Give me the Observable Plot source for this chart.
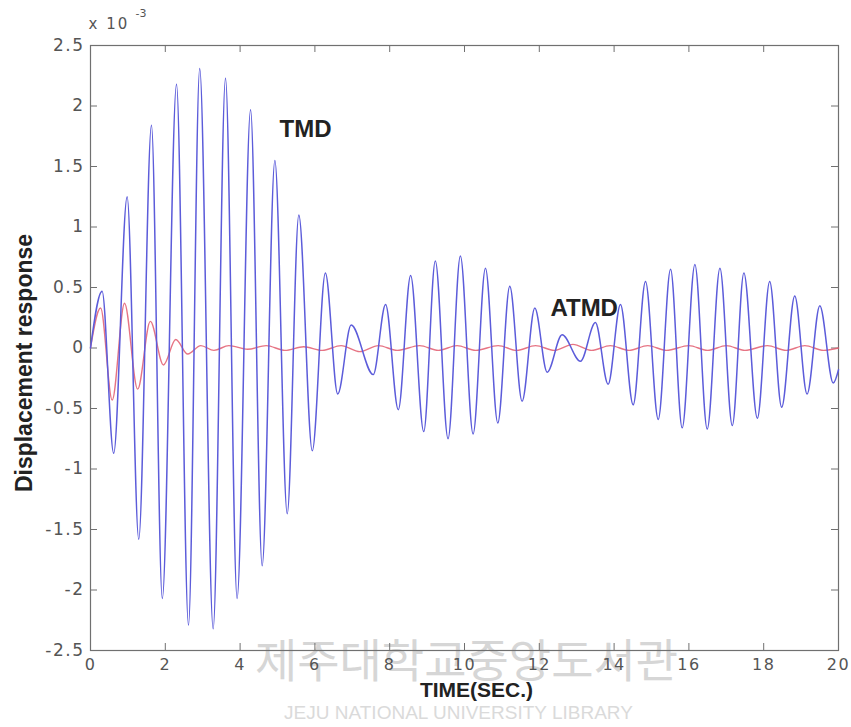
<!DOCTYPE html>
<html>
<head>
<meta charset="utf-8">
<script src="https://cdn.jsdelivr.net/npm/d3@7"></script>
<script src="https://cdn.jsdelivr.net/npm/@observablehq/plot@0.6"></script>
<style>
  html, body { margin: 0; padding: 0; background: #fff; }
  #chart { width: 851px; height: 727px; }
  g[aria-label="x-axis tick label"] text,
  g[aria-label="y-axis tick label"] text { letter-spacing: 1.5px; }
  .spaced text { letter-spacing: 2px; }
</style>
</head>
<body>
<div id="chart"></div>
<script>
// TMD response (x 10^-3), read at extrema
const tmdTime = [0, 0.31, 0.62, 0.98, 1.29, 1.63, 1.92, 2.30, 2.62, 2.92, 3.28, 3.61, 3.92, 4.28, 4.59, 4.93, 5.26, 5.57, 5.93, 6.28, 6.61, 6.97, 7.56, 7.89, 8.23, 8.56, 8.91, 9.22, 9.56, 9.89, 10.23, 10.56, 10.89, 11.21, 11.54, 11.88, 12.21, 12.61, 13.10, 13.50, 13.84, 14.17, 14.51, 14.84, 15.18, 15.51, 15.82, 16.16, 16.49, 16.83, 17.16, 17.47, 17.83, 18.16, 18.48, 18.83, 19.16, 19.50, 19.86, 20];
const tmdValue = [0, 0.47, -0.87, 1.25, -1.58, 1.84, -2.07, 2.18, -2.29, 2.31, -2.32, 2.23, -2.07, 1.97, -1.80, 1.55, -1.37, 1.10, -0.85, 0.62, -0.38, 0.19, -0.22, 0.36, -0.51, 0.60, -0.69, 0.72, -0.75, 0.76, -0.71, 0.66, -0.62, 0.51, -0.44, 0.33, -0.20, 0.11, -0.11, 0.21, -0.30, 0.36, -0.47, 0.55, -0.59, 0.65, -0.66, 0.69, -0.67, 0.66, -0.64, 0.62, -0.58, 0.55, -0.49, 0.43, -0.38, 0.35, -0.29, -0.18];

// ATMD response (x 10^-3)
const atmdTime = [0, 0.27, 0.58, 0.91, 1.26, 1.60, 1.95, 2.28, 2.60, 2.95, 3.30, 3.70, 4.20, 4.70, 5.20, 5.70, 6.20, 6.70, 7.20, 7.70, 8.20, 8.80, 9.30, 9.80, 10.30, 10.90, 11.40, 11.90, 12.40, 12.90, 13.40, 13.90, 14.40, 14.90, 15.40, 16.00, 16.50, 17.00, 17.50, 18.10, 18.60, 19.10, 19.60, 20];
const atmdValue = [0, 0.33, -0.43, 0.37, -0.34, 0.22, -0.14, 0.07, -0.05, 0.02, -0.02, 0.02, -0.01, 0.02, -0.02, 0.01, -0.02, 0.02, -0.03, 0.02, -0.02, 0.02, -0.02, 0.02, -0.02, 0.02, -0.02, 0.02, -0.02, 0.03, -0.02, 0.02, -0.02, 0.02, -0.02, 0.02, -0.02, 0.02, -0.02, 0.02, -0.02, 0.02, -0.02, 0];

const xTicks = [0, 2, 4, 6, 8, 10, 12, 14, 16, 18, 20];
const yTicks = [-2.5, -2, -1.5, -1, -0.5, 0, 0.5, 1, 1.5, 2, 2.5];

const seriesLabels = ["TMD", "ATMD"];
const labelTime = [5.75, 13.2];
const labelValue = [1.81, 0.33];

const tmd = tmdTime.map((t, i) => ({t, v: tmdValue[i]}));
const atmd = atmdTime.map((t, i) => ({t, v: atmdValue[i]}));
const labels = seriesLabels.map((s, i) => ({s, t: labelTime[i], v: labelValue[i]}));

const font = "'Liberation Sans', Arial, Helvetica, sans-serif";
const tickFont = "'DejaVu Sans', 'Liberation Sans', sans-serif";

const chart = Plot.plot({
  width: 851,
  height: 727,
  marginLeft: 90,
  marginRight: 13,
  marginTop: 45,
  marginBottom: 77,
  style: {fontFamily: font, background: "#fff", overflow: "visible"},
  x: {domain: [0, 20]},
  y: {domain: [-2.5, 2.5]},
  marks: [
    // library watermark
    Plot.text(["제주대학교중앙도서관"], {frameAnchor: "bottom", dx: 2, dy: 12, fontSize: 46, fill: "#d6d6d6", fontFamily: "'Noto Sans CJK KR', sans-serif", lineAnchor: "middle"}),
    Plot.text(["JEJU NATIONAL UNIVERSITY LIBRARY"], {frameAnchor: "bottom", dx: -6, dy: 62, fontSize: 19, fill: "#dadada", fontFamily: font, lineAnchor: "middle"}),
    Plot.frame({stroke: "#707070", strokeWidth: 1.2}),
    Plot.tickX(xTicks, {x: d => d, insetTop: 598, stroke: "#707070"}),
    Plot.tickX(xTicks, {x: d => d, insetBottom: 598, stroke: "#707070"}),
    Plot.tickY(yTicks, {y: d => d, insetRight: 741, stroke: "#707070"}),
    Plot.tickY(yTicks, {y: d => d, insetLeft: 741, stroke: "#707070"}),
    Plot.axisX(xTicks, {tickSize: 0, tickPadding: 8, fontSize: 16, fontFamily: tickFont, fill: "#555", label: null, tickFormat: d => String(d)}),
    Plot.axisY(yTicks, {tickSize: 0, tickPadding: 6, fontSize: 17, fontFamily: tickFont, fill: "#555", label: null, tickFormat: d => String(d)}),
    Plot.line(atmd, {x: "t", y: "v", curve: "monotone-x", stroke: "#e25c6e", strokeWidth: 1.4, strokeOpacity: 0.85}),
    Plot.line(tmd, {x: "t", y: "v", curve: "monotone-x", stroke: "#5c5cda", strokeWidth: 1.5}),
    Plot.text(labels, {x: "t", y: "v", text: "s", fontSize: 24, fontWeight: "bold", fill: "#222"}),
    Plot.text(["TIME(SEC.)"], {frameAnchor: "bottom", dx: 12, dy: 40, fontSize: 21, fontWeight: "bold", fill: "#222", lineAnchor: "middle"}),
    Plot.text(["Displacement response"], {frameAnchor: "left", textAnchor: "middle", dx: -66, dy: 15, rotate: -90, fontSize: 23, fontWeight: "bold", fill: "#222", lineAnchor: "middle"}),
    Plot.text(["x 10"], {frameAnchor: "top-left", dx: -2, dy: -21, fontSize: 15, fontFamily: tickFont, fill: "#555", textAnchor: "start", lineAnchor: "middle", className: "spaced"}),
    Plot.text(["-3"], {frameAnchor: "top-left", dx: 45, dy: -32, fontSize: 11, fontFamily: tickFont, fill: "#555", textAnchor: "start", lineAnchor: "middle"})
  ]
});
document.getElementById("chart").appendChild(chart);
</script>
</body>
</html>
